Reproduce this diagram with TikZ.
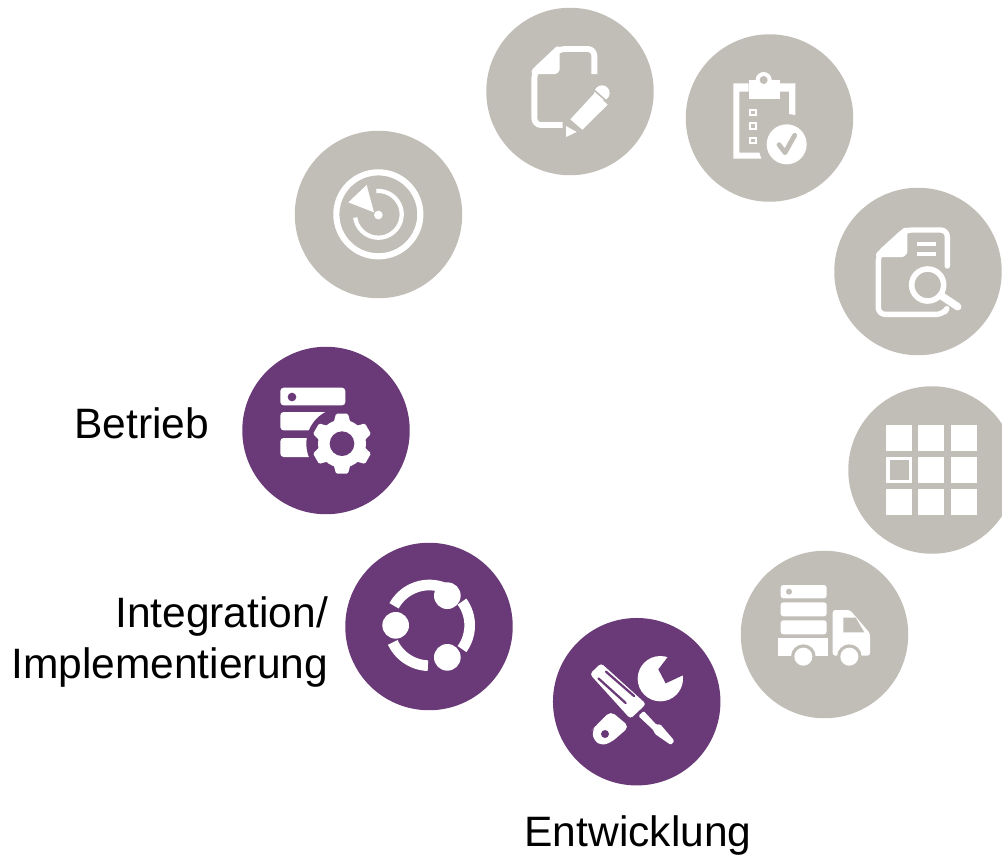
\documentclass[tikz,border=0pt]{standalone}
\usepackage{fontspec}
\setmainfont{Liberation Sans}
\definecolor{stepgray}{HTML}{C1BEB7}
\definecolor{steppurple}{HTML}{6A3A78}
\tikzset{
  disc/.style={circle,minimum size=125.6pt,inner sep=0pt,outer sep=0pt,draw=none},
  graydisc/.style={disc,fill=stepgray},
  purpledisc/.style={disc,fill=steppurple},
  steplabel/.style={font=\fontsize{31.9pt}{38.5pt}\selectfont,text=black,inner sep=0pt,outer sep=0pt},
  iconframe/.style={shift={(#1)},x=.25pt,y=-.25pt},
  ico/.style={draw=white,line join=round,fill=none},
}
\begin{document}
\begin{tikzpicture}[x=.75pt,y=-.75pt]
\useasboundingbox (0,0) rectangle (1002,854);
\node[graydisc] (plan) at (570,91.5) {};
\node[graydisc] (check) at (769.5,118) {};
\node[graydisc] (radar) at (378.5,214.5) {};
\node[graydisc] (search) at (918,271.5) {};
\node[graydisc] (grid) at (932,470) {};
\node[graydisc] (truck) at (824.5,634.5) {};
\node[purpledisc] (tools) at (636.7,701.7) {};
\node[purpledisc] (integ) at (429,626.5) {};
\node[purpledisc] (gear) at (326,430.5) {};
\node[steplabel,anchor=base west] (lbetrieb) at (74.5,438) {Betrieb};
\node[steplabel,anchor=east,align=right] (linteg) at (328,642) {Integration/\\Implementierung};
\node[steplabel,anchor=base west] (lentw) at (524.5,846) {Entwicklung};
% document + pencil
\begin{scope}[iconframe={480,0}]
  \draw[ico,line width=4.4pt,rounded corners=5pt] (343,222) -- (343,147) -- (235,147) -- (163,215) -- (163,375) -- (248,375);
  \fill[white,rounded corners=1pt] (230,139) -- (155,210) -- (155,222) -- (222,222) to[out=0,in=-90] (239,205) -- (239,139) -- cycle;
  \fill[white] (366,279) circle[radius=23];
  \draw[stepgray,line width=1.2pt] (335,264) -- (396,318);
  \fill[white] (271,358) -- (344,279) -- (383,314) -- (307,389) -- cycle;
  \fill[white] (258,378) -- (290,396) -- (258,411) -- cycle;
\end{scope}
% clipboard
\begin{scope}[iconframe={480,0}]
  \fill[white] (760,250) -- (806,250) -- (806,275) -- (778,275) -- (778,458) -- (838,458) -- (844,476) -- (760,476) -- cycle;
  \fill[white] (806,240) -- (900,240) -- (900,296) -- (806,296) -- cycle;
  \fill[white] (851,240) circle[radius=24];
  \fill[stepgray] (851,240) circle[radius=12];
  \fill[white] (900,250) -- (946,250) -- (946,345) -- (927,342) -- (927,275) -- (900,275) -- cycle;
  \foreach \yy in {337,378,422} {\draw[white,line width=1.5pt] (810,\yy-8) rectangle (828,\yy+8);}
  \fill[white] (920,433) circle[radius=60];
  \draw[stepgray,line width=3.6pt,line cap=round,line join=round] (897,434) -- (915,458) -- (944,406);
\end{scope}
% radar
\begin{scope}[iconframe={290,125}]
  \draw[white,line width=4.6pt] (265,268) circle[radius=126];
  \draw[white,line width=3.2pt] plot[domain=95:-172,samples=50] ({265+70*cos(\x)},{268-70*sin(\x)});
  \fill[white] (175,232) -- (230,180) -- (252,262) -- cycle;
  \fill[white] (265,270) circle[radius=13];
\end{scope}
% search document
\begin{scope}[iconframe={830,185}]
  \draw[ico,line width=4pt,line cap=round,rounded corners=5pt] (352,243) -- (352,135) -- (225,135) -- (145,208) -- (145,388) -- (340,388) -- (345,380);
  \fill[white,rounded corners=1pt] (222,128) -- (138,205) -- (138,216) -- (212,216) to[out=0,in=-90] (232,195) -- (232,128) -- cycle;
  \draw[white,line width=2.3pt] (262,177) -- (318,177) (262,207) -- (318,207);
  \draw[white,line width=4.2pt] (293,300) circle[radius=48];
  \draw[white,line width=5.6pt,line cap=round] (335,333) -- (383,365);
\end{scope}
% grid
\begin{scope}[iconframe={830,185}]
  \foreach \xx in {168,265,363} {\foreach \yy in {720,816,911} {\fill[white] (\xx,\yy) rectangle +(78,78);}}
  \fill[stepgray] (180,826) rectangle (237,884);
\end{scope}
% truck
\begin{scope}[iconframe={735,545}]
  \fill[white,rounded corners=2pt] (137,120) rectangle (275,160);
  \fill[stepgray] (162,140) circle[radius=9];
  \fill[white,rounded corners=2pt] (137,172) rectangle (275,214);
  \fill[white,rounded corners=2pt] (137,226) rectangle (275,268);
  \fill[white] (130,278) rectangle (280,332);
  \fill[white,rounded corners=2pt] (293,195) -- (345,195) -- (405,265) -- (405,332) -- (293,332) -- cycle;
  \fill[stepgray] (325,218) -- (362,218) -- (388,262) -- (325,262) -- cycle;
  \fill[stepgray] (205,335) circle[radius=37] (343,335) circle[radius=37];
  \fill[white] (205,335) circle[radius=27] (343,335) circle[radius=27];
\end{scope}
% tools
\begin{scope}[iconframe={545,610}]
  \fill[white] (346,206) circle[radius=68];
  \fill[steppurple] (375,132) -- (340,178) -- (362,220) -- (422,192) -- (430,130) -- cycle;
  \fill[white,draw=steppurple,line width=1pt,rounded corners=3pt] (131,192) -- (168,156) -- (307,282) -- (256,330) -- cycle;
  \draw[steppurple,line width=1.7pt,line cap=round] (160,205) -- (242,279) (183,185) -- (267,258);
  \fill[white,rounded corners=4pt] (197,303) -- (253,350) -- (200,396) -- (170,407) -- (145,390) -- (142,360) -- (150,350) -- cycle;
  \fill[steppurple] (180,372) circle[radius=12];
  \fill[white,rounded corners=1pt] (280,318) -- (296,303) -- (335,345) -- (345,342) -- (388,392) -- (378,405) -- (330,372) -- (325,360) -- cycle;
\end{scope}
% integration
\begin{scope}[iconframe={340,538}]
  \draw[white,line width=8pt] plot[domain=151:65,samples=30] ({268+121*cos(\x)},{262-121*sin(\x)});
  \draw[white,line width=8pt] plot[domain=36:-36,samples=30] ({268+121*cos(\x)},{262-121*sin(\x)});
  \draw[white,line width=8pt] plot[domain=205:268,samples=30] ({268+121*cos(\x)},{262-121*sin(\x)});
  \fill[white] (322,173) circle[radius=40] (167,262) circle[radius=40] (322,358) circle[radius=40];
\end{scope}
% gear + servers
\begin{scope}[iconframe={237,342}]
  \fill[white,rounded corners=2.5pt] (130,137) rectangle (325,190);
  \fill[steppurple] (165,165) circle[radius=13];
  \fill[white,rounded corners=2.5pt] (130,210) rectangle (290,265);
  \fill[white,rounded corners=2.5pt] (130,288) rectangle (290,345);
  \fill[steppurple] (315,305) circle[radius=107];
  \fill[white] (315,305) circle[radius=72];
  \foreach \a in {30,90,150,210,270,330} {
    \fill[white,rotate around={\a:(315,305)},rounded corners=1pt] (375,279) -- (405,287) -- (405,323) -- (375,331) -- cycle;
  }
  \fill[steppurple] (315,305) circle[radius=37];
\end{scope}
\end{tikzpicture}
\end{document}
